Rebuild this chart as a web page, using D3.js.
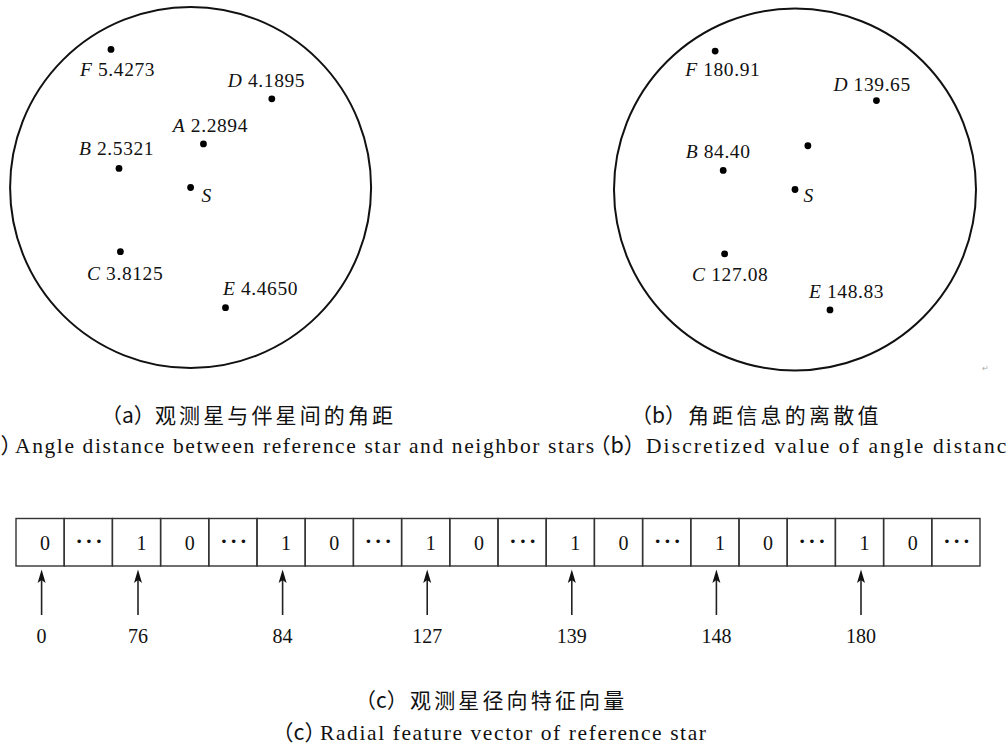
<!DOCTYPE html>
<html>
<head>
<meta charset="utf-8">
<script src="https://cdn.jsdelivr.net/npm/d3@7"></script>
<style>
  html, body { margin: 0; padding: 0; background: #fff; }
  svg { display: block; }
</style>
</head>
<body>
<div id="chart"></div>
<script>
// ---------------- DATA ----------------
// Star field coordinates (field units, S at the centre, y up; field radius = 180)
const starNames = ["S", "A", "B", "C", "D", "E", "F"];
const starX     = [0, 12.8, -71.4, -70.0, 81.0, 34.8, -79.4];
const starY     = [0, 43.5, 19.0, -64.0, 88.4, -119.8, 137.7];
// (a) angle distance between reference star and neighbour stars
const angleDistance = [null, 2.2894, 2.5321, 3.8125, 4.1895, 4.4650, 5.4273];
// (b) discretized value of angle distance (A is not labelled in the figure)
const discreteValue = [null, null, 84.40, 127.08, 139.65, 148.83, 180.91];
// (c) radial feature vector: null = ellipsis cell
const vectorCells = [0, null, 1, 0, null, 1, 0, null, 1, 0, null, 1, 0, null, 1, 0, null, 1, 0, null];
const arrowCells  = [0, 2, 5, 8, 11, 14, 17];
const arrowLabels = ["0", "76", "84", "127", "139", "148", "180"];
// captions
const capAzh = "观测星与伴星间的角距";
const capAen = "Angle distance between reference star and neighbor stars";
const capBzh = "角距信息的离散值";
const capBen = "Discretized value of angle distance";
const capCzh = "观测星径向特征向量";
const capCen = "Radial feature vector of reference star";

// ---------------- LAYOUT ----------------
const W = 1008, H = 747;
const SERIF = "Liberation Serif, Times New Roman, Times, serif";
const CJK = "Noto Sans CJK SC, Noto Sans CJK JP, sans-serif";

const svg = d3.select("#chart").append("svg")
  .attr("width", W).attr("height", H)
  .attr("viewBox", `0 0 ${W} ${H}`);
svg.append("rect").attr("width", W).attr("height", H).attr("fill", "#fff");

const stars = starNames.map((n, i) => ({
  name: n, x: starX[i], y: starY[i], a: angleDistance[i], b: discreteValue[i]
}));

// label placement (text start offset, baseline offset) per panel
const labelPosA = { S: [11, 14], A: [-30.6, -11.6], B: [-40, -13.7], C: [-33.4, 28.3], D: [-44, -12.3], E: [-2.6, -12.3], F: [-31, 27] };
const labelPosB = { S: [8.5, 12.4], B: [-37.5, -12], C: [-32.5, 26.7], D: [-43, -9.3], E: [-21, -11.6], F: [-30, 25] };

function drawPanel(cx, cy, r, valueKey, fmt, labelPos) {
  const g = svg.append("g");
  const x = d3.scaleLinear().domain([-180, 180]).range([cx - r, cx + r]);
  const y = d3.scaleLinear().domain([180, -180]).range([cy - r, cy + r]);
  g.append("circle")
    .attr("cx", x(0)).attr("cy", y(0)).attr("r", x(180) - x(0))
    .attr("fill", "none").attr("stroke", "#111").attr("stroke-width", 2);
  g.selectAll("circle.star").data(stars).join("circle")
    .attr("class", "star")
    .attr("cx", d => x(d.x)).attr("cy", d => y(d.y)).attr("r", 3.4)
    .attr("fill", "#000");
  const lab = g.selectAll("text.lab")
    .data(stars.filter(d => labelPos[d.name]))
    .join("text")
    .attr("class", "lab")
    .attr("x", d => x(d.x) + labelPos[d.name][0])
    .attr("y", d => y(d.y) + labelPos[d.name][1])
    .style("font-family", SERIF).style("font-size", "19.5px")
    .style("letter-spacing", "0.6px")
    .attr("fill", "#111");
  lab.append("tspan").style("font-style", "italic").text(d => d.name);
  lab.filter(d => d[valueKey] != null)
    .append("tspan").text(d => " " + fmt(d[valueKey]));
  return g;
}

drawPanel(190.6, 187.5, 180.5, "a", d3.format(".4f"), labelPosA);
drawPanel(795.0, 189.5, 181, "b", d3.format(".2f"), labelPosB);

// stray paragraph mark from the source document
svg.append("text").attr("x", 982).attr("y", 371)
  .style("font-family", CJK).style("font-size", "8px").attr("fill", "#aaa").text("↵");

// ---------------- CAPTIONS ----------------
function caption(prefix, px, body, bx, by, font, fs, len) {
  const t = svg.append("text").attr("y", by)
    .style("font-family", font).style("font-size", fs + "px").attr("fill", "#111");
  t.append("tspan").attr("x", px).style("font-family", CJK).text(prefix);
  const b = t.append("tspan").attr("x", bx).text(body);
  if (len) b.attr("textLength", len).attr("lengthAdjust", "spacing");
  return t;
}
// Chinese captions
caption("（a）", 101, capAzh, 155, 423, CJK, 21, 10 * 23.8);
caption("（b）", 631, capBzh, 688, 423, CJK, 21, 8 * 23.8);
caption("（c）", 355, capCzh, 410, 708, CJK, 21, 9 * 23.8);
// English captions
caption("（a）", -33, capAen, 15, 453, SERIF, 21.5, 579);
caption("（b）", 589, capBen, 646, 453, SERIF, 21.5, 372);
caption("（c）", 272, capCen, 320, 740, SERIF, 21.5, 386);

// ---------------- FEATURE VECTOR ----------------
const band = d3.scaleBand().domain(d3.range(vectorCells.length)).range([16, 980]);
const barTop = 518.5, barBottom = 566;
const vg = svg.append("g");
vg.selectAll("rect.cell").data(vectorCells).join("rect")
  .attr("class", "cell")
  .attr("x", (d, i) => band(i)).attr("y", barTop)
  .attr("width", band.bandwidth()).attr("height", barBottom - barTop)
  .attr("fill", "none").attr("stroke", "#333").attr("stroke-width", 1.4);
vg.selectAll("text.cell").data(vectorCells).join("text")
  .attr("class", "cell")
  .attr("x", (d, i) => band(i) + band.bandwidth() / 2 + (d == null ? 2 : 5))
  .attr("y", d => d == null ? 548 : 550)
  .attr("text-anchor", "middle")
  .style("font-family", SERIF).style("font-size", d => d == null ? "22px" : "20px")
  .style("letter-spacing", d => d == null ? "2.5px" : "0px")
  .style("font-weight", d => d == null ? "bold" : "normal")
  .attr("fill", "#111")
  .text(d => d == null ? "···" : d);

const arrowTip = 569.5, arrowBase = 583, arrowEnd = 615;
const ag = vg.selectAll("g.arrow").data(arrowCells).join("g").attr("class", "arrow")
  .attr("transform", d => `translate(${band(d) + band.bandwidth() / 2 + 1.5},0)`);
ag.append("line").attr("x1", 0).attr("x2", 0).attr("y1", arrowBase - 3).attr("y2", arrowEnd)
  .attr("stroke", "#222").attr("stroke-width", 1.6);
ag.append("path")
  .attr("d", `M0,${arrowTip} L-4,${arrowBase} L0,${arrowBase - 3} L4,${arrowBase} Z`)
  .attr("fill", "#111");
ag.append("text").attr("x", 0).attr("y", 643)
  .attr("text-anchor", "middle")
  .style("font-family", SERIF).style("font-size", "20px").attr("fill", "#111")
  .text((d, i) => arrowLabels[i]);
</script>
</body>
</html>
